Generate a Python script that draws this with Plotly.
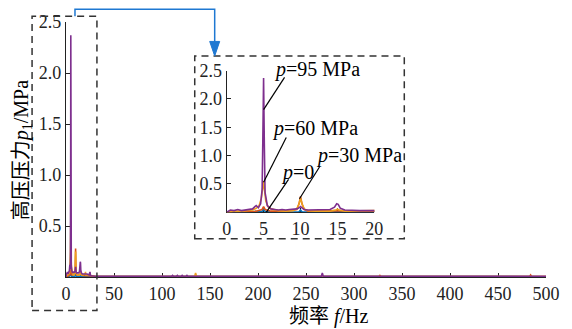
import plotly.graph_objects as go

# ---------------- data ----------------
# p = 0 (blue)
f_p0 = [0, 1, 2, 3, 4, 4.8, 5.0, 5.2, 6, 8, 9.8, 10.0, 10.2, 12, 14.8, 15.0, 15.2, 18, 20, 30, 60, 100, 150, 200, 250, 300, 350, 400, 450, 500]
a_p0 = [0.0, 0.005, 0.005, 0.006, 0.008, 0.015, 0.06, 0.015, 0.006, 0.005, 0.01, 0.04, 0.01, 0.005, 0.008, 0.02, 0.008, 0.005, 0.005, 0.004, 0.003, 0.003, 0.003, 0.003, 0.003, 0.003, 0.003, 0.003, 0.003, 0.003]

# p = 30 MPa (red-orange)
f_p30 = [0, 2, 4, 4.8, 5.0, 5.2, 6, 8, 9.5, 9.8, 10.0, 10.2, 10.5, 11, 13, 15, 17, 20, 30, 60, 100, 150, 200, 250, 300, 326, 327, 328, 400, 450, 483, 484, 485, 500]
a_p30 = [0.0, 0.01, 0.02, 0.05, 0.1, 0.05, 0.02, 0.02, 0.05, 0.15, 0.28, 0.15, 0.05, 0.02, 0.02, 0.03, 0.015, 0.015, 0.008, 0.005, 0.005, 0.005, 0.005, 0.005, 0.005, 0.005, 0.015, 0.005, 0.005, 0.005, 0.005, 0.02, 0.005, 0.005]

# p = 60 MPa (yellow-orange)
f_p60 = [0, 1, 2, 3, 3.5, 4, 4.4, 4.7, 4.9, 5.0, 5.1, 5.3, 5.6, 6, 7, 8, 9, 9.5, 9.8, 10.0, 10.2, 10.5, 11, 12, 14, 14.8, 15.0, 15.2, 16, 18, 20, 20.3, 20.6, 22, 24, 25, 26, 30, 60, 100, 130, 134, 135, 136, 150, 200, 250, 300, 350, 400, 450, 500]
a_p60 = [0.0, 0.02, 0.02, 0.03, 0.04, 0.07, 0.12, 0.25, 0.45, 0.55, 0.42, 0.2, 0.1, 0.06, 0.03, 0.02, 0.03, 0.06, 0.15, 0.25, 0.15, 0.06, 0.03, 0.02, 0.02, 0.04, 0.06, 0.04, 0.02, 0.02, 0.03, 0.05, 0.02, 0.02, 0.02, 0.03, 0.01, 0.008, 0.005, 0.005, 0.005, 0.005, 0.04, 0.005, 0.005, 0.005, 0.005, 0.005, 0.005, 0.005, 0.005, 0.005]

# p = 95 MPa (purple)
f_p95 = [0, 0.5, 1, 1.5, 2, 2.5, 3, 3.5, 4, 4.3, 4.6, 4.8, 4.9, 5.0, 5.1, 5.2, 5.5, 6, 6.5, 7, 7.5, 8, 8.5, 9, 9.5, 9.8, 10.0, 10.2, 10.5, 11, 12, 13, 14, 14.6, 14.9, 15.1, 15.4, 16, 17, 18, 19, 20, 22, 24, 24.6, 25, 25.4, 26, 28, 30,
         60, 100, 110, 111, 112, 115, 116, 117, 120, 121, 122, 125, 126, 127, 150, 200, 250, 266, 267, 268, 300, 350, 400, 450, 500]
a_p95 = [0.0, 0.04, 0.03, 0.05, 0.03, 0.04, 0.05, 0.06, 0.12, 0.08, 0.15, 0.4, 1.3, 2.37, 1.2, 0.35, 0.12, 0.06, 0.05, 0.04, 0.05, 0.04, 0.05, 0.05, 0.06, 0.08, 0.1, 0.08, 0.05, 0.04, 0.04, 0.04, 0.05, 0.09, 0.15, 0.14, 0.07, 0.04, 0.03, 0.03, 0.03, 0.03, 0.03, 0.02, 0.03, 0.05, 0.02, 0.01, 0.01, 0.008,
         0.006, 0.006, 0.006, 0.015, 0.006, 0.006, 0.015, 0.006, 0.006, 0.015, 0.006, 0.006, 0.015, 0.006, 0.006, 0.006, 0.006, 0.006, 0.04, 0.006, 0.006, 0.006, 0.006, 0.006, 0.006]

series = [
    ("p=0", f_p0, a_p0, "#0072BD"),
    ("p=30 MPa", f_p30, a_p30, "#D95319"),
    ("p=60 MPa", f_p60, a_p60, "#EDA01E"),
    ("p=95 MPa", f_p95, a_p95, "#7E2F8E"),
]
draw_order = [0, 1, 2, 3]

x_ticks_main = [0, 50, 100, 150, 200, 250, 300, 350, 400, 450, 500]
y_ticks = [0.5, 1.0, 1.5, 2.0, 2.5]
y_tick_text = ["0.5", "1.0", "1.5", "2.0", "2.5"]
x_ticks_inset = [0, 5, 10, 15, 20]

# inset labels: text, text left (px), text centre (px), leader line start/end in inset data units
inset_labels = [
    ("<i>p</i>=95 MPa", 272, 64, 7.84, 2.38, 5.0, 1.81),
    ("<i>p</i>=60 MPa", 270, 125, 8.07, 1.32, 5.0, 0.53),
    ("<i>p</i>=0", 279, 170, 8.38, 0.58, 5.36, 0.0),
    ("<i>p</i>=30 MPa", 315, 152, 12.57, 0.80, 9.86, 0.24),
]

# ---------------- figure ----------------
FONT = "Liberation Serif"
FONT_CJK = "Liberation Serif, Noto Sans CJK SC"
W, H = 572, 329
L, R, T, B = 66, 547, 15, 277.5


def xp(px):
    return (px - L) / (R - L)


def yp(py):
    return (B - py) / (B - T)


fig = go.Figure()
for i in draw_order:
    name, f, a, c = series[i]
    fig.add_trace(go.Scatter(x=f, y=a, mode="lines", line=dict(color=c, width=1.6),
                             name=name, showlegend=False, xaxis="x", yaxis="y"))
for i in draw_order:
    name, f, a, c = series[i]
    fig.add_trace(go.Scatter(x=f, y=a, mode="lines", line=dict(color=c, width=1.6),
                             name=name, showlegend=False, xaxis="x2", yaxis="y2"))

axis_common = dict(showgrid=False, zeroline=False, showline=True, linecolor="#222",
                   linewidth=1.2, ticks="inside", ticklen=4, tickcolor="#222",
                   tickfont=dict(family=FONT, size=18, color="#222"), mirror=False,
                   layer="below traces")

fig.update_layout(
    width=W, height=H,
    margin=dict(l=L, r=W - R, t=T, b=H - B),
    plot_bgcolor="white", paper_bgcolor="white",
    font=dict(family=FONT),
    xaxis=dict(range=[0, 500], tickvals=x_ticks_main, domain=[0, 1], **axis_common),
    yaxis=dict(range=[0, 2.5], tickvals=y_ticks, ticktext=y_tick_text, domain=[0, 1], **axis_common),
    xaxis2=dict(range=[0, 20], tickvals=x_ticks_inset, domain=[xp(227), xp(375)], anchor="y2", **axis_common),
    yaxis2=dict(range=[0, 2.5], tickvals=y_ticks, ticktext=y_tick_text, domain=[yp(210.9), yp(65)], anchor="x2", **axis_common),
)

shapes = []
dash = "7px,5px"
# dashed boxes
shapes.append(dict(type="rect", xref="paper", yref="paper", x0=xp(32), x1=xp(97), y0=yp(312), y1=yp(9),
                   line=dict(color="#333", width=1.5, dash=dash)))
shapes.append(dict(type="rect", xref="paper", yref="paper", x0=xp(195), x1=xp(405), y0=yp(238), y1=yp(50),
                   line=dict(color="#333", width=1.5, dash=dash)))
# blue connector arrow
shapes.append(dict(type="path", xref="paper", yref="paper",
                   path=f"M {xp(75)},{yp(9)} L {xp(75)},{yp(2)} L {xp(215)},{yp(2)} L {xp(215)},{yp(37)}",
                   line=dict(color="#1E78D2", width=1.5)))
shapes.append(dict(type="path", xref="paper", yref="paper",
                   path=f"M {xp(210)},{yp(35)} L {xp(220)},{yp(35)} L {xp(215)},{yp(50)} Z",
                   fillcolor="#1E78D2", line=dict(color="#1E78D2", width=1)))
# leader lines
for txt, tx, ty, x0, y0, x1, y1 in inset_labels:
    shapes.append(dict(type="line", xref="x2", yref="y2", x0=x0, y0=y0, x1=x1, y1=y1,
                       line=dict(color="black", width=1.2)))
fig.update_layout(shapes=shapes)

annotations = []
for txt, tx, ty, x0, y0, x1, y1 in inset_labels:
    annotations.append(dict(text=txt, x=xp(tx), y=yp(ty), xref="paper", yref="paper", xanchor="left", yanchor="middle",
                            showarrow=False, font=dict(family=FONT, size=20, color="black")))
annotations.append(dict(text="高压压力<i>p</i><sub>1</sub>/MPa", x=xp(22), y=yp(147), xref="paper", yref="paper",
                        textangle=-90, showarrow=False, xanchor="center", yanchor="middle",
                        font=dict(family=FONT_CJK, size=20, color="black")))
annotations.append(dict(text="频率 <i>f</i>/Hz", x=xp(330), y=yp(318), xref="paper", yref="paper",
                        showarrow=False, xanchor="center", yanchor="middle",
                        font=dict(family=FONT_CJK, size=20, color="black")))
fig.update_layout(annotations=annotations)

fig.write_html("out.html", config={"displayModeBar": False},
               post_script="document.body.style.margin='0';document.body.style.padding='0';")
